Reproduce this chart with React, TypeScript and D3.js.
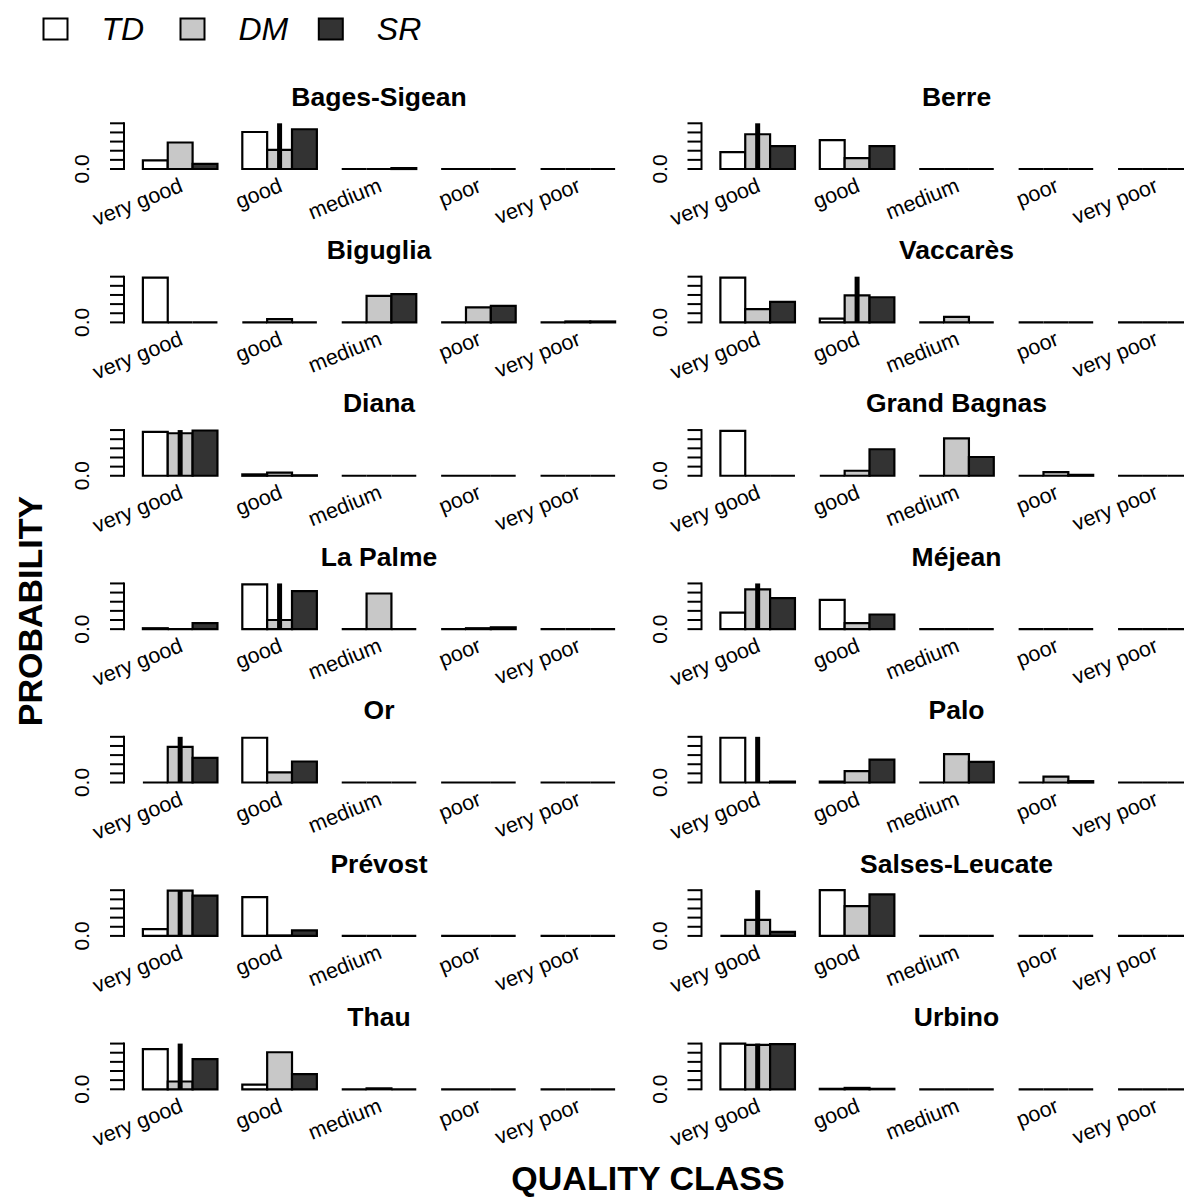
import React from "react";
import * as d3 from "d3";

const lagoons = [
  "Bages-Sigean", "Berre", "Biguglia", "Vaccarès", "Diana", "Grand Bagnas", "La Palme",
  "Méjean", "Or", "Palo", "Prévost", "Salses-Leucate", "Thau", "Urbino",
];
const classes = ["very good", "good", "medium", "poor", "very poor"];
const methods = ["TD", "DM", "SR"];
const yTicks = [0, 0.2, 0.4, 0.6, 0.8, 1.0];

const tdValues = [
  [0.19, 0.81, 0, 0, 0],
  [0.37, 0.63, 0, 0, 0],
  [0.98, 0, 0, 0, 0],
  [0.98, 0.08, 0, 0, 0],
  [0.96, 0.03, 0, 0, 0],
  [0.98, 0, 0, 0, 0],
  [0.02, 0.98, 0, 0, 0],
  [0.36, 0.64, 0, 0, 0],
  [0, 0.98, 0, 0, 0],
  [0.98, 0.02, 0, 0, 0],
  [0.15, 0.85, 0, 0, 0],
  [0, 1.0, 0, 0, 0],
  [0.88, 0.1, 0, 0, 0],
  [1.0, 0.01, 0, 0, 0],
];
const dmValues = [
  [0.58, 0.42, 0, 0, 0],
  [0.76, 0.24, 0, 0, 0],
  [0, 0.07, 0.58, 0.33, 0.02],
  [0.29, 0.59, 0.12, 0, 0],
  [0.93, 0.07, 0, 0, 0],
  [0, 0.11, 0.82, 0.08, 0],
  [0, 0.2, 0.78, 0.02, 0],
  [0.87, 0.13, 0, 0, 0],
  [0.78, 0.22, 0, 0, 0],
  [0, 0.25, 0.62, 0.13, 0],
  [0.99, 0.01, 0, 0, 0],
  [0.35, 0.65, 0, 0, 0],
  [0.17, 0.81, 0.02, 0, 0],
  [0.97, 0.03, 0, 0, 0],
];
const srValues = [
  [0.11, 0.87, 0.02, 0, 0],
  [0.5, 0.5, 0, 0, 0],
  [0, 0, 0.62, 0.36, 0.02],
  [0.45, 0.55, 0, 0, 0],
  [0.99, 0.01, 0, 0, 0],
  [0, 0.58, 0.41, 0.02, 0],
  [0.13, 0.83, 0, 0.04, 0],
  [0.68, 0.32, 0, 0, 0],
  [0.54, 0.46, 0, 0, 0],
  [0.02, 0.5, 0.45, 0.03, 0],
  [0.88, 0.12, 0, 0, 0],
  [0.09, 0.91, 0, 0, 0],
  [0.66, 0.33, 0, 0, 0],
  [0.99, 0.01, 0, 0, 0],
];
// index of observed class (thick vertical line), null when absent
const observedClass: (number | null)[] = [1, 0, null, 1, 0, null, 1, 0, 0, 0, 0, 0, 0, 0];

const methodFill = ["#ffffff", "#c8c8c8", "#333333"];
const FONT = "'Liberation Sans', Arial, Helvetica, sans-serif";

const W = 1184;
const H = 1198;
const colOffset = 577.5;
const row0Base = 169;
const rowStep = 153.38;
const panelH = 45.7;

function Panel({ idx }: { idx: number }) {
  const col = idx % 2;
  const row = Math.floor(idx / 2);
  const ox = col * colOffset;
  const y0 = row0Base + row * rowStep;
  const x = d3.scaleLinear().domain([0.24, 20.76]).range([124 + ox, 634 + ox]);
  const y = d3.scaleLinear().domain([0, 1]).range([y0, y0 - panelH]);
  const series = [tdValues[idx], dmValues[idx], srValues[idx]];
  const obs = observedClass[idx];
  const bars: JSX.Element[] = [];
  classes.forEach((_, g) => {
    methods.forEach((_, m) => {
      const v = series[m][g];
      const xl = x(1 + 4 * g + m);
      const xr = x(2 + 4 * g + m);
      const p = d3.path();
      p.moveTo(xl, y(0));
      p.lineTo(xl, y(v));
      p.lineTo(xr, y(v));
      p.lineTo(xr, y(0));
      p.closePath();
      bars.push(
        <path key={`b${g}-${m}`} d={p.toString()} fill={methodFill[m]} stroke="#000" strokeWidth={2.2} strokeLinejoin="miter" />
      );
    });
  });
  const axisX = x(0.24);
  return (
    <g>
      <text x={x(10.5)} y={y0 - 63.3} textAnchor="middle" fontFamily={FONT} fontWeight="bold" fontSize={26.5}>
        {lagoons[idx]}
      </text>
      {bars}
      {obs !== null && (
        <line x1={x(2.5 + 4 * obs)} x2={x(2.5 + 4 * obs)} y1={y(0)} y2={y(1)} stroke="#000" strokeWidth={5} />
      )}
      <line x1={axisX} x2={axisX} y1={y(0)} y2={y(1)} stroke="#000" strokeWidth={2} strokeLinecap="square" />
      {yTicks.map((t) => (
        <line key={t} x1={axisX - 14} x2={axisX} y1={y(t)} y2={y(t)} stroke="#000" strokeWidth={2} />
      ))}
      <text
        transform={`translate(${axisX - 35},${y(0)}) rotate(-90)`}
        textAnchor="middle"
        fontFamily={FONT}
        fontSize={21}
      >
        {d3.format(".1f")(0)}
      </text>
      {classes.map((c, g) => (
        <text
          key={c}
          transform={`translate(${x(2.5 + 4 * g) + 4},${y0 + 22}) rotate(-22)`}
          textAnchor="end"
          fontFamily={FONT}
          fontSize={21.5}
        >
          {c}
        </text>
      ))}
    </g>
  );
}

export default function App() {
  const legendX = [55.5, 192.5, 330.8];
  return (
    <svg width={W} height={H} style={{ position: "absolute", left: 0, top: 0, background: "#fff" }}>
      <rect x={0} y={0} width={W} height={H} fill="#fff" />
      {methods.map((m, i) => (
        <g key={m}>
          <rect x={legendX[i] - 12} y={18.5} width={24} height={21} fill={methodFill[i]} stroke="#000" strokeWidth={2} />
          <text x={legendX[i] + 46} y={40} fontFamily={FONT} fontStyle="italic" fontSize={32}>
            {m}
          </text>
        </g>
      ))}
      {lagoons.map((_, i) => (
        <Panel key={i} idx={i} />
      ))}
      <text
        transform={`translate(42,611) rotate(-90)`}
        textAnchor="middle"
        fontFamily={FONT}
        fontWeight="bold"
        fontSize={34}
      >
        PROBABILITY
      </text>
      <text x={648} y={1190} textAnchor="middle" fontFamily={FONT} fontWeight="bold" fontSize={34}>
        QUALITY CLASS
      </text>
    </svg>
  );
}
